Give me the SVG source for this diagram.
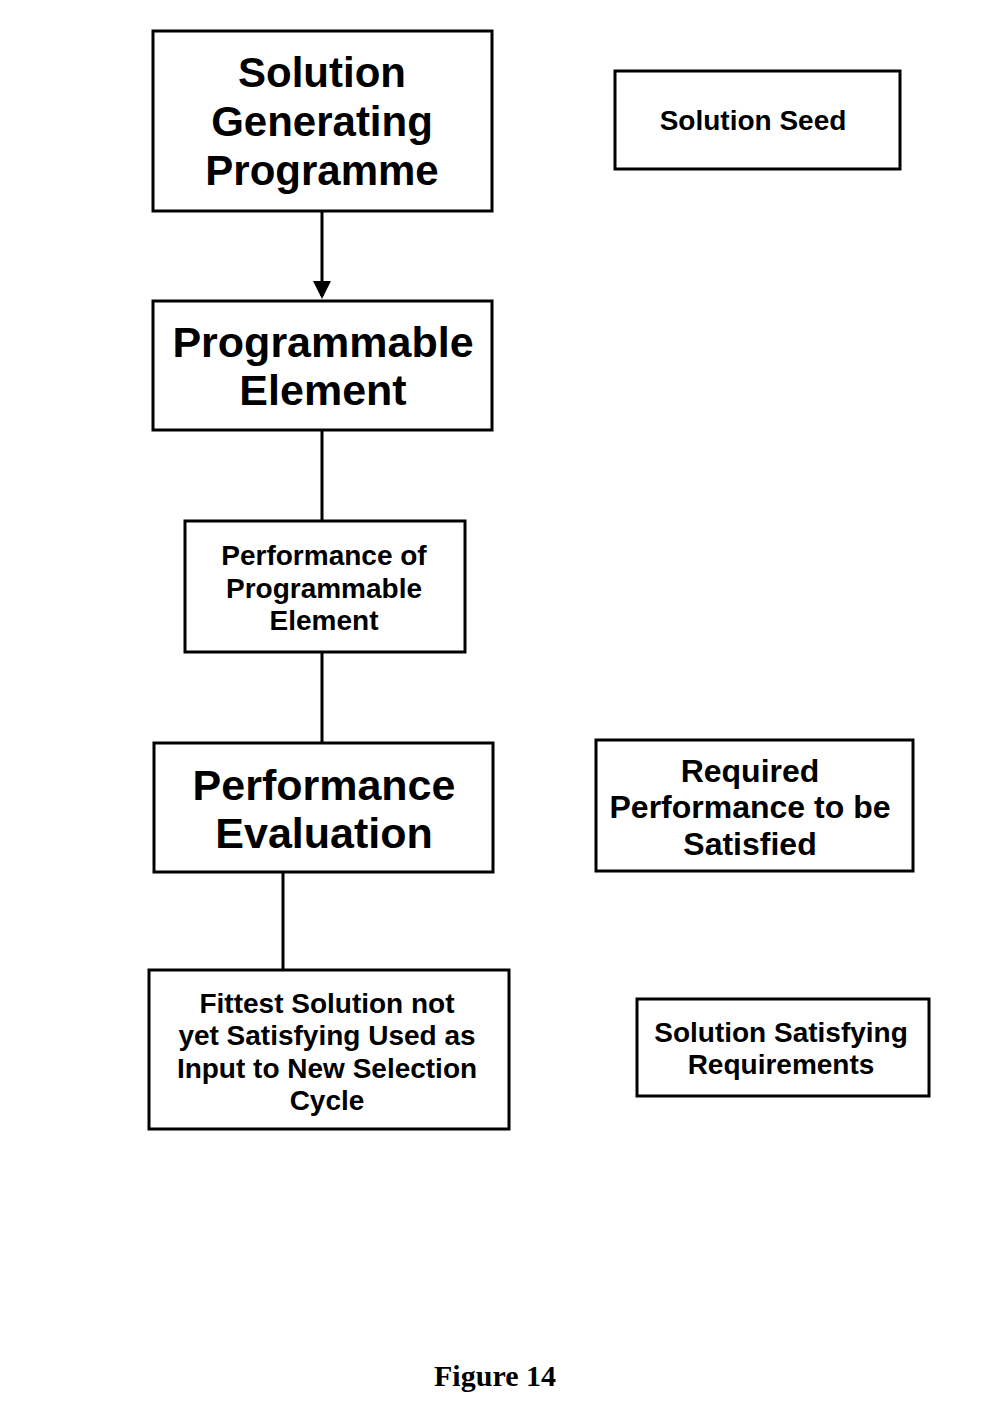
<svg xmlns="http://www.w3.org/2000/svg" width="990" height="1413" viewBox="0 0 990 1413">
<style>
.box{fill:#fff;stroke:#000;stroke-width:3}
.t{font-family:"Liberation Sans",Arial,sans-serif;font-weight:bold;text-anchor:middle;fill:#000}
.c{stroke:#000;stroke-width:3;fill:none}
</style>
<defs>
<marker id="ah" markerWidth="6" markerHeight="6" refX="5" refY="3" orient="auto" markerUnits="strokeWidth">
<path d="M0,0 L6,3 L0,6 Z" fill="#000"/>
</marker>
</defs>
<rect width="990" height="1413" fill="#fff"/>
<g id="connectors">
<line class="c" x1="322" y1="211" x2="322" y2="296" marker-end="url(#ah)"/>
<line class="c" x1="322" y1="430" x2="322" y2="521"/>
<line class="c" x1="322" y1="652" x2="322" y2="743"/>
<line class="c" x1="283" y1="872" x2="283" y2="970"/>
</g>
<g id="n1"><rect class="box" x="153" y="31" width="339" height="180"/>
<text class="t" font-size="42" x="322" y="87">Solution</text>
<text class="t" font-size="42" x="322" y="136">Generating</text>
<text class="t" font-size="42" x="322" y="185">Programme</text></g>
<g id="n2"><rect class="box" x="615" y="71" width="285" height="98"/>
<text class="t" font-size="28" x="753" y="130">Solution Seed</text></g>
<g id="n3"><rect class="box" x="153" y="301" width="339" height="129"/>
<text class="t" font-size="43" x="323" y="357">Programmable</text>
<text class="t" font-size="43" x="323" y="405">Element</text></g>
<g id="n4"><rect class="box" x="185" y="521" width="280" height="131"/>
<text class="t" font-size="28" x="324" y="565">Performance of</text>
<text class="t" font-size="28" x="324" y="598">Programmable</text>
<text class="t" font-size="28" x="324" y="630">Element</text></g>
<g id="n5"><rect class="box" x="154" y="743" width="339" height="129"/>
<text class="t" font-size="43" x="324" y="800">Performance</text>
<text class="t" font-size="43" x="324" y="848">Evaluation</text></g>
<g id="n6"><rect class="box" x="596" y="740" width="317" height="131"/>
<text class="t" font-size="32" x="750" y="782">Required</text>
<text class="t" font-size="32" x="750" y="818">Performance to be</text>
<text class="t" font-size="32" x="750" y="855">Satisfied</text></g>
<g id="n7"><rect class="box" x="149" y="970" width="360" height="159"/>
<text class="t" font-size="28" x="327" y="1013">Fittest Solution not</text>
<text class="t" font-size="28" x="327" y="1045">yet Satisfying Used as</text>
<text class="t" font-size="28" x="327" y="1078">Input to New Selection</text>
<text class="t" font-size="28" x="327" y="1110">Cycle</text></g>
<g id="n8"><rect class="box" x="637" y="999" width="292" height="97"/>
<text class="t" font-size="28" x="781" y="1042">Solution Satisfying</text>
<text class="t" font-size="28" x="781" y="1074">Requirements</text></g>
<text x="495" y="1386" font-family="'Liberation Serif','Times New Roman',serif" font-weight="bold" font-size="30" text-anchor="middle">Figure 14</text>
</svg>
